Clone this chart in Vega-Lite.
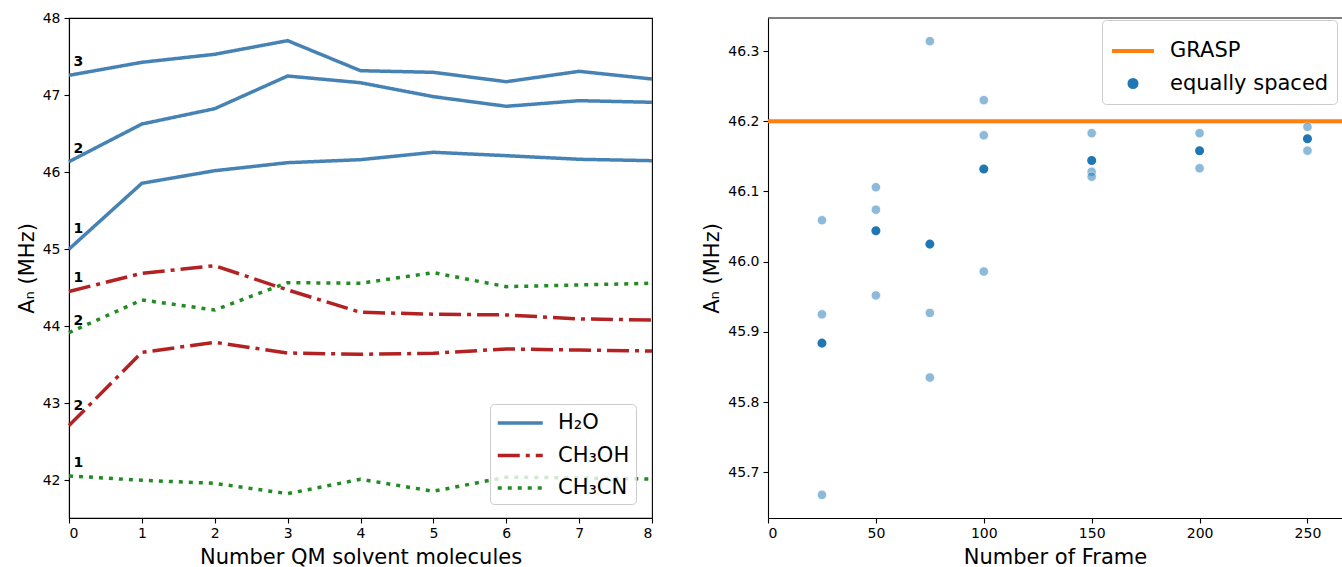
{
  "$schema": "https://vega.github.io/schema/vega-lite/v6.json",
  "padding": {"left": 15, "top": 10, "right": 0, "bottom": 0},
  "bounds": "flush",
  "spacing": 116,
  "resolve": {"scale": {"x": "independent", "y": "independent", "color": "independent", "shape": "independent", "strokeDash": "independent", "size": "independent"}, "legend": {"color": "independent", "shape": "independent", "strokeDash": "independent", "size": "independent"}},
  "config": {
    "font": "DejaVu Sans",
    "axis": {"labelFontSize": 14, "titleFontSize": 21, "titleFontWeight": "normal", "labelColor": "black", "titleColor": "black", "domainColor": "black", "tickColor": "black", "tickSize": 5, "labelPadding": 3, "grid": false, "titlePadding": 6, "domainWidth": 1.1, "tickWidth": 1.1},
    "axisY": {"labelPadding": 4, "titlePadding": 5},
    "legend": {"labelFontSize": 21, "labelColor": "black"}
  },
  "datasets": {
    "lines": [
      {"solvent": "H₂O", "series": "H2O-1", "x": 0, "y": 45.0},
      {"solvent": "H₂O", "series": "H2O-1", "x": 1, "y": 45.855},
      {"solvent": "H₂O", "series": "H2O-1", "x": 2, "y": 46.018},
      {"solvent": "H₂O", "series": "H2O-1", "x": 3, "y": 46.122},
      {"solvent": "H₂O", "series": "H2O-1", "x": 4, "y": 46.161},
      {"solvent": "H₂O", "series": "H2O-1", "x": 5, "y": 46.257},
      {"solvent": "H₂O", "series": "H2O-1", "x": 6, "y": 46.213},
      {"solvent": "H₂O", "series": "H2O-1", "x": 7, "y": 46.166},
      {"solvent": "H₂O", "series": "H2O-1", "x": 8, "y": 46.148},
      {"solvent": "H₂O", "series": "H2O-2", "x": 0, "y": 46.135},
      {"solvent": "H₂O", "series": "H2O-2", "x": 1, "y": 46.624},
      {"solvent": "H₂O", "series": "H2O-2", "x": 2, "y": 46.823},
      {"solvent": "H₂O", "series": "H2O-2", "x": 3, "y": 47.247},
      {"solvent": "H₂O", "series": "H2O-2", "x": 4, "y": 47.16},
      {"solvent": "H₂O", "series": "H2O-2", "x": 5, "y": 46.979},
      {"solvent": "H₂O", "series": "H2O-2", "x": 6, "y": 46.854},
      {"solvent": "H₂O", "series": "H2O-2", "x": 7, "y": 46.927},
      {"solvent": "H₂O", "series": "H2O-2", "x": 8, "y": 46.906},
      {"solvent": "H₂O", "series": "H2O-3", "x": 0, "y": 47.256},
      {"solvent": "H₂O", "series": "H2O-3", "x": 1, "y": 47.425},
      {"solvent": "H₂O", "series": "H2O-3", "x": 2, "y": 47.529},
      {"solvent": "H₂O", "series": "H2O-3", "x": 3, "y": 47.706},
      {"solvent": "H₂O", "series": "H2O-3", "x": 4, "y": 47.316},
      {"solvent": "H₂O", "series": "H2O-3", "x": 5, "y": 47.295},
      {"solvent": "H₂O", "series": "H2O-3", "x": 6, "y": 47.173},
      {"solvent": "H₂O", "series": "H2O-3", "x": 7, "y": 47.308},
      {"solvent": "H₂O", "series": "H2O-3", "x": 8, "y": 47.208},
      {"solvent": "CH₃OH", "series": "MeOH-1", "x": 0, "y": 44.45},
      {"solvent": "CH₃OH", "series": "MeOH-1", "x": 1, "y": 44.686},
      {"solvent": "CH₃OH", "series": "MeOH-1", "x": 2, "y": 44.785},
      {"solvent": "CH₃OH", "series": "MeOH-1", "x": 3, "y": 44.47},
      {"solvent": "CH₃OH", "series": "MeOH-1", "x": 4, "y": 44.18},
      {"solvent": "CH₃OH", "series": "MeOH-1", "x": 5, "y": 44.155},
      {"solvent": "CH₃OH", "series": "MeOH-1", "x": 6, "y": 44.146},
      {"solvent": "CH₃OH", "series": "MeOH-1", "x": 7, "y": 44.094},
      {"solvent": "CH₃OH", "series": "MeOH-1", "x": 8, "y": 44.08},
      {"solvent": "CH₃OH", "series": "MeOH-2", "x": 0, "y": 42.71},
      {"solvent": "CH₃OH", "series": "MeOH-2", "x": 1, "y": 43.66},
      {"solvent": "CH₃OH", "series": "MeOH-2", "x": 2, "y": 43.79},
      {"solvent": "CH₃OH", "series": "MeOH-2", "x": 3, "y": 43.652},
      {"solvent": "CH₃OH", "series": "MeOH-2", "x": 4, "y": 43.635},
      {"solvent": "CH₃OH", "series": "MeOH-2", "x": 5, "y": 43.648},
      {"solvent": "CH₃OH", "series": "MeOH-2", "x": 6, "y": 43.704},
      {"solvent": "CH₃OH", "series": "MeOH-2", "x": 7, "y": 43.69},
      {"solvent": "CH₃OH", "series": "MeOH-2", "x": 8, "y": 43.678},
      {"solvent": "CH₃CN", "series": "MeCN-2", "x": 0, "y": 43.916},
      {"solvent": "CH₃CN", "series": "MeCN-2", "x": 1, "y": 44.34},
      {"solvent": "CH₃CN", "series": "MeCN-2", "x": 2, "y": 44.21},
      {"solvent": "CH₃CN", "series": "MeCN-2", "x": 3, "y": 44.565},
      {"solvent": "CH₃CN", "series": "MeCN-2", "x": 4, "y": 44.557},
      {"solvent": "CH₃CN", "series": "MeCN-2", "x": 5, "y": 44.695},
      {"solvent": "CH₃CN", "series": "MeCN-2", "x": 6, "y": 44.513},
      {"solvent": "CH₃CN", "series": "MeCN-2", "x": 7, "y": 44.535},
      {"solvent": "CH₃CN", "series": "MeCN-2", "x": 8, "y": 44.557},
      {"solvent": "CH₃CN", "series": "MeCN-1", "x": 0, "y": 42.056},
      {"solvent": "CH₃CN", "series": "MeCN-1", "x": 1, "y": 42.0},
      {"solvent": "CH₃CN", "series": "MeCN-1", "x": 2, "y": 41.96},
      {"solvent": "CH₃CN", "series": "MeCN-1", "x": 3, "y": 41.826},
      {"solvent": "CH₃CN", "series": "MeCN-1", "x": 4, "y": 42.013},
      {"solvent": "CH₃CN", "series": "MeCN-1", "x": 5, "y": 41.857},
      {"solvent": "CH₃CN", "series": "MeCN-1", "x": 6, "y": 42.04},
      {"solvent": "CH₃CN", "series": "MeCN-1", "x": 7, "y": 42.03},
      {"solvent": "CH₃CN", "series": "MeCN-1", "x": 8, "y": 42.016}
    ],
    "labels": [
      {"lab": "3", "x": 0.13, "y": 47.43},
      {"lab": "2", "x": 0.13, "y": 46.3},
      {"lab": "1", "x": 0.13, "y": 45.26},
      {"lab": "1", "x": 0.13, "y": 44.63},
      {"lab": "2", "x": 0.13, "y": 44.07},
      {"lab": "2", "x": 0.13, "y": 42.96},
      {"lab": "1", "x": 0.13, "y": 42.23}
    ],
    "frames": [
      {"kind": "sample", "frames": 25, "a": 46.059},
      {"kind": "sample", "frames": 25, "a": 45.925},
      {"kind": "sample", "frames": 25, "a": 45.668},
      {"kind": "sample", "frames": 50, "a": 46.106},
      {"kind": "sample", "frames": 50, "a": 46.074},
      {"kind": "sample", "frames": 50, "a": 45.952},
      {"kind": "sample", "frames": 75, "a": 46.314},
      {"kind": "sample", "frames": 75, "a": 45.927},
      {"kind": "sample", "frames": 75, "a": 45.835},
      {"kind": "sample", "frames": 100, "a": 46.23},
      {"kind": "sample", "frames": 100, "a": 46.18},
      {"kind": "sample", "frames": 100, "a": 45.986},
      {"kind": "sample", "frames": 150, "a": 46.183},
      {"kind": "sample", "frames": 150, "a": 46.128},
      {"kind": "sample", "frames": 150, "a": 46.121},
      {"kind": "sample", "frames": 200, "a": 46.183},
      {"kind": "sample", "frames": 200, "a": 46.133},
      {"kind": "sample", "frames": 250, "a": 46.192},
      {"kind": "sample", "frames": 250, "a": 46.158},
      {"kind": "equally spaced", "frames": 25, "a": 45.884},
      {"kind": "equally spaced", "frames": 50, "a": 46.044},
      {"kind": "equally spaced", "frames": 75, "a": 46.025},
      {"kind": "equally spaced", "frames": 100, "a": 46.132},
      {"kind": "equally spaced", "frames": 150, "a": 46.144},
      {"kind": "equally spaced", "frames": 200, "a": 46.158},
      {"kind": "equally spaced", "frames": 250, "a": 46.175}
    ],
    "grasp": [{"kind": "GRASP", "a": 46.2}]
  },
  "hconcat": [
    {
      "width": 583,
      "height": 500,
      "view": {"stroke": "black", "strokeWidth": 1.1},
      "layer": [
        {
          "data": {"name": "lines"},
          "mark": {"type": "line", "strokeWidth": 3.5},
          "encoding": {
            "x": {"field": "x", "type": "quantitative", "scale": {"domain": [0, 8], "nice": false}, "axis": {"values": [0, 1, 2, 3, 4, 5, 6, 7, 8], "format": "d", "title": "Number QM solvent molecules"}},
            "y": {"field": "y", "type": "quantitative", "scale": {"domain": [41.51, 48], "nice": false, "zero": false}, "axis": {"values": [42, 43, 44, 45, 46, 47, 48], "format": "d", "title": "Aₙ (MHz)"}},
            "detail": {"field": "series"},
            "color": {"field": "solvent", "type": "nominal", "scale": {"domain": ["H₂O", "CH₃OH", "CH₃CN"], "range": ["#4682b4", "#b22222", "#228b22"]},
              "legend": {"title": null, "orient": "none", "legendX": 421, "legendY": 386, "symbolType": "M-1,0H3", "symbolSize": 506, "symbolStrokeWidth": 3.5, "padding": 6, "rowPadding": 9.5, "labelOffset": 36, "strokeColor": "#cccccc", "cornerRadius": 4, "fillColor": "rgba(255,255,255,0.8)"}},
            "strokeDash": {"field": "solvent", "type": "nominal", "scale": {"domain": ["H₂O", "CH₃OH", "CH₃CN"], "range": [[1, 0], [22, 6, 4, 6], [4, 6]]},
              "legend": {"title": null, "orient": "none", "legendX": 421, "legendY": 386, "symbolType": "M-1,0H3", "symbolSize": 506, "symbolStrokeWidth": 3.5, "padding": 6, "rowPadding": 9.5, "labelOffset": 36, "strokeColor": "#cccccc", "cornerRadius": 4, "fillColor": "rgba(255,255,255,0.8)"}}
          }
        },
        {
          "data": {"name": "labels"},
          "mark": {"type": "text", "fontWeight": "bold", "fontSize": 14, "align": "center", "baseline": "middle", "color": "black"},
          "encoding": {
            "x": {"field": "x", "type": "quantitative"},
            "y": {"field": "y", "type": "quantitative"},
            "text": {"field": "lab"}
          }
        }
      ]
    },
    {
      "width": 574,
      "height": 500,
      "view": {"stroke": null},
      "layer": [
        {
          "data": {"name": "grasp"},
          "mark": {"type": "rule", "strokeWidth": 4},
          "encoding": {
            "y": {"field": "a", "type": "quantitative", "scale": {"domain": [45.635, 46.347], "nice": false, "zero": false}, "axis": {"values": [45.7, 45.8, 45.9, 46.0, 46.1, 46.2, 46.3], "format": ".1f", "title": "Aₙ (MHz)"}},
            "color": {"field": "kind", "type": "nominal", "scale": {"domain": ["GRASP", "equally spaced"], "range": ["#ff7f0e", "#1f77b4"]},
              "legend": {"title": null, "orient": "none", "legendX": 334, "legendY": 2, "padding": 8, "rowPadding": 10, "labelOffset": 14, "strokeColor": "#cccccc", "cornerRadius": 4, "fillColor": "rgba(255,255,255,0.8)", "symbolFillColor": "#1f77b4", "symbolStrokeWidth": 4}}
          }
        },
        {
          "data": {"name": "grasp"},
          "mark": {"type": "rule", "strokeWidth": 1.1, "color": "black"},
          "encoding": {"y": {"datum": 46.347, "type": "quantitative"}}
        },
        {
          "data": {"name": "frames"},
          "transform": [{"filter": "datum.kind === 'sample'"}],
          "mark": {"type": "point", "filled": true, "size": 90, "color": "#1f77b4", "opacity": 0.5, "stroke": "white", "strokeWidth": 0.8, "strokeOpacity": 1},
          "encoding": {
            "x": {"field": "frames", "type": "quantitative", "scale": {"domain": [0, 266], "nice": false}, "axis": {"values": [0, 50, 100, 150, 200, 250], "format": "d", "title": "Number of Frame"}},
            "y": {"field": "a", "type": "quantitative"}
          }
        },
        {
          "data": {"name": "frames"},
          "transform": [{"filter": "datum.kind === 'equally spaced'"}],
          "mark": {"type": "point", "filled": false, "fill": "#1f77b4", "fillOpacity": 1, "strokeWidth": 2, "opacity": 1},
          "encoding": {
            "x": {"field": "frames", "type": "quantitative"},
            "y": {"field": "a", "type": "quantitative"},
            "color": {"field": "kind", "type": "nominal",
              "legend": {"title": null, "orient": "none", "legendX": 334, "legendY": 2, "padding": 8, "rowPadding": 10, "labelOffset": 14, "strokeColor": "#cccccc", "cornerRadius": 4, "fillColor": "rgba(255,255,255,0.8)", "symbolFillColor": "#1f77b4", "symbolStrokeWidth": 4}},
            "shape": {"field": "kind", "type": "nominal", "scale": {"domain": ["GRASP", "equally spaced"], "range": ["stroke", "circle"]},
              "legend": {"title": null, "orient": "none", "legendX": 334, "legendY": 2, "padding": 8, "rowPadding": 10, "labelOffset": 14, "strokeColor": "#cccccc", "cornerRadius": 4, "fillColor": "rgba(255,255,255,0.8)", "symbolFillColor": "#1f77b4", "symbolStrokeWidth": 4}},
            "size": {"field": "kind", "type": "nominal", "scale": {"domain": ["GRASP", "equally spaced"], "range": [1764, 50]},
              "legend": {"title": null, "orient": "none", "legendX": 334, "legendY": 2, "padding": 8, "rowPadding": 10, "labelOffset": 14, "strokeColor": "#cccccc", "cornerRadius": 4, "fillColor": "rgba(255,255,255,0.8)", "symbolFillColor": "#1f77b4", "symbolStrokeWidth": 4}}
          }
        }
      ]
    }
  ]
}
